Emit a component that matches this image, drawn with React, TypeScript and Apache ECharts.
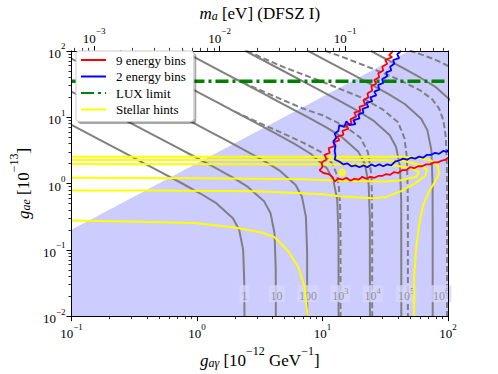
import { useEffect, useRef } from 'react';
import * as echarts from 'echarts';

type Pt = [number, number];

// ---------- data ----------
const unshadedEdge: Pt[] = [[0.1, 0.2], [49, 100], [100, 100]];

const rateSolid: Pt[][] = [
  [[0.1,7.67],[0.153,5],[0.256,3],[0.383,2],[0.511,1.5],[0.763,1],[1.073,0.7],[1.432,0.5],[1.933,0.3],[2.169,0.2],[2.332,0.1],[2.384,0.03],[2.389,0.01]],
  [[0.1,24.25],[0.136,17.78],[0.272,8.89],[0.455,5.33],[0.681,3.556],[0.909,2.667],[1.357,1.778],[1.908,1.245],[2.546,0.889],[3.437,0.533],[3.857,0.356],[4.146,0.178],[4.239,0.0533],[4.248,0.01]],
  [[0.1,76.7],[0.243,31.62],[0.484,15.81],[0.81,9.487],[1.211,6.325],[1.616,4.743],[2.413,3.162],[3.393,2.214],[4.528,1.581],[6.112,0.949],[6.859,0.632],[7.374,0.316],[7.539,0.0949],[7.555,0.01]],
  [[0.2425,100],[0.431,56.23],[0.86,28.12],[1.44,16.87],[2.154,11.25],[2.873,8.435],[4.29,5.623],[6.034,3.936],[8.052,2.812],[10.87,1.687],[12.2,1.125],[13.11,0.562],[13.41,0.169],[13.43,0.01]],
  [[0.767,100],[1.53,50],[2.56,30],[3.83,20],[5.11,15],[7.63,10],[10.73,7],[14.32,5],[19.33,3],[21.69,2],[23.32,1],[23.84,0.3],[23.89,0.01]],
  [[2.425,100],[4.552,53.34],[6.81,35.56],[9.086,26.67],[13.57,17.78],[19.08,12.45],[25.46,8.89],[34.37,5.334],[38.57,3.556],[41.46,1.778],[42.39,0.533],[42.48,0.01]],
  [[7.67,100],[12.11,63.25],[16.16,47.43],[24.13,31.62],[33.93,22.14],[45.28,15.81],[61.12,9.487],[68.59,6.325],[73.74,3.162],[75.39,0.949],[75.55,0.01]],
  [[24.25,100],[28.73,84.3],[42.9,56.23],[60.34,39.36],[80.52,28.1],[108.7,16.87]],
];

const rateDashed: Pt[][] = [
  [[2,12.1],[3,8.51],[5,5.55],[7,4.14],[10,2.91],[12,1.98],[13,1.36],[13.5,0.906],[13.8,0.466],[13.91,0.2],[13.91,0.01]],
  [[2,38.3],[3,26.9],[5,17.7],[7,13.5],[10,10.7],[15,7.34],[20,4.93],[23,2.99],[24.5,1.36],[24.8,0.62],[24.9,0.2],[24.9,0.01]],
  [[2.5,99],[3,85.2],[5,56],[10,34.2],[20,20.1],[30,13.2],[40,8.4],[45,4.8],[47,2.5],[47.7,0.87],[47.9,0.3],[47.9,0.01]],
  [[10.5,100],[15,78.8],[25,54],[40,37.3],[60,25.4],[75,18.6],[85,13.5],[92,8.87],[96,5.07],[98,1.87],[98.2,0.5],[98.2,0.01]],
  [[42.4,114],[50,100.6],[60,89.4],[75,76.7],[90,65.8],[100,59.2]],
];

const rateLabelExp = [0, 1, 2, 3, 4, 5, 6];
const rateLabelG = [2.39, 4.31, 7.66, 13.9, 25.1, 46.4, 88.3];
const rateLabelH = [0.0218, 0.0218, 0.0218, 0.0218, 0.0218, 0.0218, 0.0218];

const bins9: Pt[] = [
  [36.6,100],[34.0,86.1],[35.9,80.5],[31.6,72.9],[32.8,63.8],[29.9,57.8],[30.5,50.6],[27.8,45.8],[28.3,40.1],[25.9,36.3],[26.8,31.8],[24.5,29.7],[24.9,25.2],[22.8,22.8],[23.2,19.9],[21.2,18.0],[21.9,15.3],[19.7,14.3],[20.0,12.5],[17.9,11.7],[18.6,10.3],[16.7,9.28],[17.0,8.12],[15.5,7.60],[16.1,6.66],[14.4,6.23],[14.7,5.45],[13.2,5.10],[13.6,4.47],[12.2,4.18],[12.5,3.66],[11.2,3.42],[11.4,2.90],[10.4,2.71],[10.8,2.30],[9.82,2.08],[10.0,1.76],[9.47,1.59],[10.2,1.44],[11.2,1.39],[12.0,1.26],[12.5,1.07],[13.4,1.18],[14.4,1.14],[15.5,1.22],[16.7,1.10],[17.9,1.18],[19.3,1.14],[20.8,1.26],[22.3,1.18],[24.0,1.26],[25.9,1.22],[27.8,1.30],[29.9,1.30],[32.2,1.39],[34.6,1.35],[37.3,1.49],[40.1,1.44],[43.1,1.59],[46.4,1.59],[49.9,1.76],[53.7,1.70],[57.8,1.82],[62.2,1.82],[66.9,1.94],[72.0,1.94],[77.4,2.08],[83.3,2.08],[89.6,2.22],[96.4,2.30],[100,2.45],
];

const bins2: Pt[] = [
  [42.4,100],[39.4,89.0],[40.8,77.9],[36.6,72.9],[37.3,63.8],[34.6,57.8],[35.3,50.6],[32.2,47.3],[32.8,41.4],[29.9,37.5],[30.5,32.8],[27.8,30.7],[28.3,26.0],[25.9,24.3],[26.8,21.3],[24.0,19.9],[24.9,17.5],[22.3,16.3],[23.2,14.3],[20.8,13.4],[21.2,11.7],[19.3,11.0],[19.7,9.59],[17.6,8.98],[18.3,7.86],[16.4,7.60],[15.5,8.68],[14.9,7.11],[13.6,7.60],[13.4,6.23],[12.5,5.63],[12.9,4.93],[12.2,4.32],[12.7,3.66],[12.5,3.10],[12.7,2.62],[12.5,2.30],[13.6,2.15],[14.7,1.94],[15.8,2.01],[17.0,1.82],[18.3,1.88],[19.7,1.76],[21.2,1.88],[22.8,1.76],[24.5,1.94],[26.3,1.82],[28.3,1.94],[30.5,1.82],[32.8,1.94],[35.3,1.88],[38.0,2.15],[40.8,2.22],[43.9,2.37],[47.3,2.30],[50.8,2.45],[54.7,2.37],[58.9,2.54],[63.3,2.45],[68.1,2.71],[73.3,2.71],[78.9,2.90],[84.8,2.80],[91.3,3.10],[98.2,3.00],[100,3.20],
];

const luxLimit: Pt[] = [[0.1, 35], [100, 35]];

const stellarOuter: Pt[] = [[0.1,2.54],[42.4,2.54],[58.9,2.45],[73.3,2.22],[83.3,1.82],[84.8,1.39],[78.9,1.07],[70.7,0.766],[63.3,0.466],[58.9,0.239],[55.7,0.104],[53.7,0.0384],[53.7,0.01]];
const stellarMid: Pt[] = [[0.1,2.27],[29.4,2.26],[46.4,2.15],[61.1,1.88],[68.1,1.59],[65.7,1.30],[55.7,1.03],[42.4,0.766],[32.2,0.628],[25.4,0.597],[14.2,0.638],[10.2,0.687],[2.99,0.766],[0.44,0.782],[0.1,0.785]];
const stellarInner: Pt[] = [[0.1,1.96],[24.5,1.94],[38.7,1.85],[50.8,1.70],[58.9,1.49],[55.7,1.26],[42.4,1.12],[32.2,1.07],[14.2,1.10],[6.81,1.16],[1.10,1.20],[0.1,1.22]];
const stellarLow: Pt[] = [[0.1,0.276],[0.289,0.267],[0.964,0.253],[2.00,0.217],[3.28,0.182],[4.16,0.155],[5.37,0.0943],[6.45,0.0536],[7.20,0.0276],[7.60,0.01]];
const stellarBest: Pt[] = [[14.3, 1.46]];

const xMajor = [0.1, 1, 10, 100];
const xMinor = [0.2,0.3,0.4,0.5,0.6,0.7,0.8,0.9,2,3,4,5,6,7,8,9,20,30,40,50,60,70,80,90];
const yMajor = [0.01, 0.1, 1, 10, 100];
const yMinor = [0.02,0.03,0.04,0.05,0.06,0.07,0.08,0.09,0.2,0.3,0.4,0.5,0.6,0.7,0.8,0.9,2,3,4,5,6,7,8,9,20,30,40,50,60,70,80,90];
const topMajor = [0.001, 0.01, 0.1];
const topMinor = [0.0007,0.0008,0.0009,0.002,0.003,0.004,0.005,0.006,0.007,0.008,0.009,0.02,0.03,0.04,0.05,0.06,0.07,0.08,0.09,0.2,0.3,0.4,0.5,0.6];

// ---------- styles ----------
const SERIF = 'Liberation Serif, DejaVu Serif, serif';
const GRAY = '#808080';

const powRich = {
  b: { fontFamily: SERIF, fontSize: 13, lineHeight: 18, verticalAlign: 'bottom', color: '#000' },
  s: { fontFamily: SERIF, fontSize: 9, lineHeight: 9, verticalAlign: 'top', color: '#000' },
};
const expText = (e: number) => (e < 0 ? '\u2212' + -e : String(e));
const powLabel = (v: number) => `{b|10}{s|${expText(Math.round(Math.log10(v)))}}`;

const nameRich = {
  i: { fontFamily: SERIF, fontStyle: 'italic', fontSize: 17, lineHeight: 24, verticalAlign: 'bottom', color: '#000' },
  n: { fontFamily: SERIF, fontSize: 17, lineHeight: 24, verticalAlign: 'bottom', color: '#000' },
  sub: { fontFamily: SERIF, fontStyle: 'italic', fontSize: 12, lineHeight: 14, verticalAlign: 'bottom', color: '#000' },
  sup: { fontFamily: SERIF, fontSize: 12, lineHeight: 10, verticalAlign: 'top', color: '#000' },
};

const blackLine = { show: true, lineStyle: { color: '#000', width: 1 } };

function majorAxis(min: number, max: number, position: string, ticks: number[], extra: any = {}) {
  return {
    type: 'log', logBase: 10, min, max, position, z: 10,
    axisLine: blackLine,
    axisTick: { show: true, length: 5, inside: false, customValues: ticks, lineStyle: { color: '#000', width: 1 } },
    axisLabel: { show: true, customValues: ticks, formatter: powLabel, rich: powRich, margin: 6, fontFamily: SERIF },
    splitLine: { show: false }, minorTick: { show: false }, minorSplitLine: { show: false },
    ...extra,
  };
}
function minorAxis(min: number, max: number, position: string, ticks: number[]) {
  return {
    type: 'log', logBase: 10, min, max, position, z: 10,
    axisLine: { show: false },
    axisTick: { show: true, length: 3, inside: false, customValues: ticks, lineStyle: { color: '#000', width: 0.8 } },
    axisLabel: { show: false },
    splitLine: { show: false }, minorTick: { show: false },
  };
}

function lineSeries(name: string, data: Pt[], color: string, width: number, z: number, type: any = 'solid') {
  return {
    type: 'line', name, data, z, silent: true, symbol: 'none', showSymbol: false,
    lineStyle: { color, width, type }, itemStyle: { color },
    emphasis: { disabled: true },
  };
}

export default function App() {
  const ref = useRef<HTMLDivElement>(null);
  useEffect(() => {
    document.body.style.margin = '0';
    const chart = echarts.init(ref.current!, null, { renderer: 'svg' });
    const series: any[] = [];
    series.push({
      type: 'line', name: 'region', data: unshadedEdge, z: 1, silent: true, symbol: 'none',
      lineStyle: { width: 0 }, areaStyle: { color: '#ccccff', opacity: 1, origin: 'start' },
    });
    rateSolid.forEach((d, i) => series.push(lineSeries('rate' + i, d, GRAY, 2, 2)));
    rateDashed.forEach((d, i) => series.push(lineSeries('rateD' + i, d, GRAY, 2, 2, [6, 3])));
    series.push({
      type: 'scatter', name: 'rateLabels', z: 3, silent: true, symbolSize: 0,
      data: rateLabelG.map((g, i) => [g, rateLabelH[i], rateLabelExp[i]]),
      label: {
        show: true, position: 'inside',
        formatter: (p: any) => {
          const e = p.value[2];
          return e <= 2 ? `{b|${Math.pow(10, e)}}` : `{b|10}{s|${e}}`;
        },
        backgroundColor: '#d6d6fb', padding: [1, 2, 0, 2],
        rich: {
          b: { fontFamily: SERIF, fontSize: 12, lineHeight: 16, verticalAlign: 'bottom', color: GRAY },
          s: { fontFamily: SERIF, fontSize: 8.5, lineHeight: 9, verticalAlign: 'top', color: GRAY },
        },
      },
    });
    series.push(lineSeries('Stellar hints', stellarOuter, '#ffff00', 2, 4));
    series.push(lineSeries('Stellar hints', stellarMid, '#ffff00', 2, 4));
    series.push(lineSeries('Stellar hints', stellarInner, '#ffff00', 2, 4));
    series.push(lineSeries('Stellar hints', stellarLow, '#ffff00', 2, 4));
    series.push({
      type: 'scatter', name: 'best', data: stellarBest, z: 4, silent: true,
      symbol: 'circle', symbolSize: 8, itemStyle: { color: '#ffff00' },
    });
    series.push(lineSeries('LUX limit', luxLimit, '#008000', 3.5, 5, [13, 4, 3, 4]));
    series.push(lineSeries('9 energy bins', bins9, '#ff0000', 1.8, 6));
    series.push(lineSeries('2 energy bins', bins2, '#0000ff', 1.8, 6));

    chart.setOption({
      animation: false,
      backgroundColor: '#ffffff',
      textStyle: { fontFamily: SERIF },
      grid: { left: 69, top: 44, width: 379, height: 277, show: false, containLabel: false },
      legend: {
        data: ['9 energy bins', '2 energy bins', 'LUX limit', 'Stellar hints'],
        orient: 'vertical', left: 76, top: 51, z: 20,
        itemWidth: 25, itemHeight: 14, itemGap: 2.5,
        padding: [2, 8, 5, 4],
        backgroundColor: '#ffffff', borderColor: '#cccccc', borderWidth: 1, borderRadius: 3,
        shadowColor: 'rgba(0,0,0,0.35)', shadowBlur: 0, shadowOffsetX: 2, shadowOffsetY: 2,
        itemStyle: { opacity: 0 },
        textStyle: { fontFamily: SERIF, fontSize: 13, lineHeight: 14, color: '#000', padding: [0, 0, 0, 5] },
        selectedMode: false,
      },
      xAxis: [
        majorAxis(0.1, 100, 'bottom', xMajor, {
          name: '{i|g}{sub|a\u03b3}{n| [10}{sup|\u221212}{n| GeV}{sup|\u22121}{n|]}',
          nameLocation: 'middle', nameGap: 25, nameTextStyle: { rich: nameRich, fontFamily: SERIF },
        }),
        majorAxis(0.00066, 0.66, 'top', topMajor, {
          name: '{i|m}{sub|a}{n| [eV] (DFSZ I)}',
          nameLocation: 'middle', nameGap: 16, nameTextStyle: { rich: nameRich, fontFamily: SERIF },
        }),
        minorAxis(0.1, 100, 'bottom', xMinor),
        minorAxis(0.00066, 0.66, 'top', topMinor),
      ],
      yAxis: [
        majorAxis(0.01, 100, 'left', yMajor, {
          name: '{i|g}{sub|ae}{n| [10}{sup|\u221213}{n|]}',
          nameLocation: 'middle', nameGap: 36, nameTextStyle: { rich: nameRich, fontFamily: SERIF },
        }),
        minorAxis(0.01, 100, 'left', yMinor),
        {
          type: 'log', min: 0.01, max: 100, position: 'right', z: 10,
          axisLine: blackLine, axisTick: { show: false }, axisLabel: { show: false },
          splitLine: { show: false },
        },
      ],
      series,
    });
    return () => chart.dispose();
  }, []);
  return <div ref={ref} style={{ position: 'absolute', left: 0, top: 0, width: 498, height: 374 }} />;
}
